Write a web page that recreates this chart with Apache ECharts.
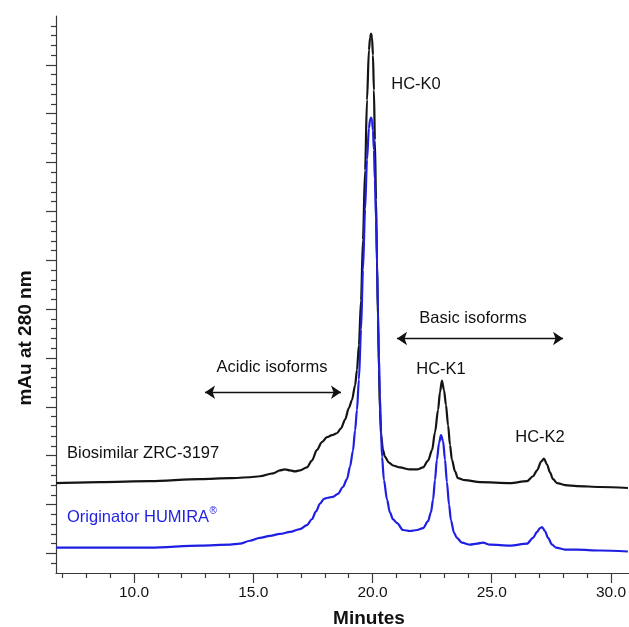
<!DOCTYPE html>
<html>
  <head>
    <meta charset="utf-8" />
    <title>Chromatogram</title>
    <script src="https://cdn.jsdelivr.net/npm/echarts@6/dist/echarts.min.js"></script>
  </head>
  <body style="margin:0;background:#fff;">
    <div id="main" style="width: 629px;height:627px;"></div>
    <script type="text/javascript">
      // Biosimilar ZRC-3197 trace (minutes / mAU, offset upward)
      var bioMin = [6.73, 8.57, 10.67, 12.77, 14.03, 14.86, 15.28, 15.83, 16.12, 16.33, 16.54, 16.75, 16.96, 17.25, 17.46, 17.67, 17.88, 18.09, 18.30, 18.51, 18.68, 18.85, 19.01, 19.14, 19.27, 19.35, 19.43, 19.52, 19.60, 19.69, 19.77, 19.85, 19.90, 19.94, 19.98, 20.02, 20.06, 20.10, 20.15, 20.19, 20.23, 20.27, 20.31, 20.36, 20.44, 20.52, 20.69, 20.86, 21.15, 21.57, 21.87, 22.12, 22.33, 22.50, 22.62, 22.75, 22.83, 22.91, 23.00, 23.08, 23.17, 23.25, 23.33, 23.46, 23.58, 23.88, 24.51, 25.77, 26.48, 26.73, 26.90, 27.07, 27.19, 27.32, 27.44, 27.57, 27.74, 28.07, 28.57, 29.54, 30.71];
      var bioAu = [92, 93, 94, 96, 97, 98, 99, 102, 105, 106, 105, 104, 105, 108, 115, 126, 134, 139, 141, 143, 148, 157, 169, 177, 192, 208, 233, 279, 341, 412, 484, 535, 548, 552, 548, 530, 494, 443, 382, 320, 259, 208, 167, 141, 126, 119, 113, 110, 108, 106, 106, 108, 115, 126, 144, 167, 185, 197, 187, 172, 151, 131, 116, 104, 97, 95, 93, 92, 94, 99, 105, 114, 117, 111, 103, 96, 92, 90, 89, 88, 87];

      // Originator HUMIRA trace
      var origMin = [6.73, 8.57, 10.67, 12.77, 14.03, 14.44, 14.86, 15.28, 15.70, 16.12, 16.54, 16.96, 17.25, 17.46, 17.63, 17.80, 17.97, 18.13, 18.34, 18.55, 18.76, 18.93, 19.06, 19.18, 19.27, 19.35, 19.43, 19.52, 19.60, 19.69, 19.77, 19.85, 19.90, 19.94, 19.98, 20.02, 20.06, 20.10, 20.15, 20.19, 20.23, 20.27, 20.31, 20.36, 20.40, 20.48, 20.61, 20.73, 20.86, 21.03, 21.28, 21.57, 21.87, 22.12, 22.33, 22.45, 22.54, 22.62, 22.70, 22.79, 22.87, 22.96, 23.04, 23.12, 23.21, 23.29, 23.42, 23.54, 23.75, 24.09, 24.38, 24.63, 24.93, 25.77, 26.48, 26.73, 26.90, 27.02, 27.11, 27.23, 27.36, 27.53, 27.69, 28.07, 28.57, 29.54, 30.71];
      var origAu = [26, 26, 26, 28, 29, 30, 33, 36, 38, 40, 42, 45, 49, 55, 63, 71, 76, 77, 78, 81, 88, 96, 109, 125, 146, 167, 198, 249, 310, 372, 423, 455, 464, 466, 463, 453, 433, 402, 361, 315, 269, 223, 182, 146, 119, 95, 75, 62, 55, 51, 44, 43, 44, 46, 53, 62, 75, 95, 116, 133, 141, 135, 116, 93, 70, 54, 41, 36, 31, 29, 30, 31, 29, 28, 30, 36, 42, 46, 47, 43, 36, 29, 26, 24, 24, 23, 22];

      // axis ticks
      var xMajor = [10, 15, 20, 25, 30];
      var xMinor = [7, 8, 9, 11, 12, 13, 14, 16, 17, 18, 19, 21, 22, 23, 24, 26, 27, 28, 29];
      var yMajor = [20, 70, 120, 170, 220, 270, 320, 370, 420, 470, 520];
      var yMinor = [10, 30, 40, 50, 60, 80, 90, 100, 110, 130, 140, 150, 160, 180, 190, 200, 210, 230, 240, 250, 260, 280, 290, 300, 310, 330, 340, 350, 360, 380, 390, 400, 410, 430, 440, 450, 460, 480, 490, 500, 510, 530, 540, 550, 560];

      // arrows [from, to, level]
      var acidicArrow = [12.98, 18.68, 185];
      var basicArrow = [21.03, 27.99, 240];

      function zip(a, b) {
        return a.map(function(v, i) { return [v, b[i]]; });
      }

      var axisColor = "#3a3a3a";
      var font = "Liberation Sans, Arial, sans-serif";
      var blue = "#1f1fe4";

      var myChart = echarts.init(document.getElementById("main"));

      var option = {
        backgroundColor: "#fff",
        animation: false,
        grid: { left: 56, right: 0, top: 16, bottom: 54, outerBoundsMode: "none" },
        xAxis: [
          {
            type: "value",
            min: 6.73,
            max: 30.755,
            axisLine: { show: true, lineStyle: { color: axisColor, width: 1.2 } },
            axisTick: { show: true, customValues: xMajor, length: 10, lineStyle: { color: axisColor, width: 1.2 } },
            axisLabel: {
              customValues: xMajor,
              formatter: function(v) { return v.toFixed(1); },
              color: "#111",
              fontFamily: font,
              fontSize: 15.5,
              margin: 12
            },
            splitLine: { show: false }
          },
          {
            type: "value",
            position: "bottom",
            min: 6.73,
            max: 30.755,
            axisLine: { show: false },
            axisTick: { show: true, customValues: xMinor, length: 5, lineStyle: { color: axisColor, width: 1.2 } },
            axisLabel: { show: false },
            splitLine: { show: false }
          }
        ],
        yAxis: [
          {
            type: "value",
            min: 0,
            max: 570,
            axisLine: { show: true, lineStyle: { color: axisColor, width: 1.2 } },
            axisTick: { show: true, customValues: yMajor, length: 10, lineStyle: { color: axisColor, width: 1.2 } },
            axisLabel: { show: false },
            splitLine: { show: false }
          },
          {
            type: "value",
            position: "left",
            min: 0,
            max: 570,
            axisLine: { show: false },
            axisTick: { show: true, customValues: yMinor, length: 5, lineStyle: { color: axisColor, width: 1.2 } },
            axisLabel: { show: false },
            splitLine: { show: false }
          }
        ],
        series: [
          {
            name: "Biosimilar ZRC-3197",
            type: "line",
            data: zip(bioMin, bioAu),
            showSymbol: false,
            symbol: "none",
            smooth: 0.3,
            smoothMonotone: "x",
            lineStyle: { color: "#141414", width: 2.2 },
            markLine: {
              silent: true,
              symbol: ["arrow", "arrow"],
              symbolSize: 10,
              label: { show: false },
              lineStyle: { color: "#111", width: 1.3, type: "solid" },
              data: [
                [{ coord: [acidicArrow[0], acidicArrow[2]] }, { coord: [acidicArrow[1], acidicArrow[2]] }],
                [{ coord: [basicArrow[0], basicArrow[2]] }, { coord: [basicArrow[1], basicArrow[2]] }]
              ]
            }
          },
          {
            name: "Originator HUMIRA",
            type: "line",
            data: zip(origMin, origAu),
            showSymbol: false,
            symbol: "none",
            smooth: 0.3,
            smoothMonotone: "x",
            lineStyle: { color: blue, width: 2.2 }
          }
        ],
        graphic: [
          txt("HC-K0", 416, 84, "center", "#111", 16.5),
          txt("Basic isoforms", 473, 318, "center", "#111", 16.5),
          txt("Acidic isoforms", 272, 367, "center", "#111", 16.5),
          txt("HC-K1", 441, 369, "center", "#111", 16.5),
          txt("HC-K2", 540, 437, "center", "#111", 16.5),
          txt("Biosimilar ZRC-3197", 67, 453, "left", "#111", 16.5),
          txt("Originator HUMIRA", 67, 517, "left", blue, 16.5),
          txt("®", 209.5, 511, "left", blue, 10),
          {
            type: "text",
            x: 369,
            y: 619,
            style: { text: "Minutes", font: "bold 19px " + font, fill: "#111", align: "center", verticalAlign: "middle" }
          },
          {
            type: "text",
            x: 26,
            y: 338,
            rotation: Math.PI / 2,
            style: { text: "mAu at 280 nm", font: "bold 19px " + font, fill: "#111", align: "center", verticalAlign: "middle" }
          }
        ]
      };

      function txt(s, x, y, align, color, size) {
        return {
          type: "text",
          x: x,
          y: y,
          style: { text: s, font: size + "px " + font, fill: color, align: align, verticalAlign: "middle" }
        };
      }

      myChart.setOption(option);
    </script>
  </body>
</html>
